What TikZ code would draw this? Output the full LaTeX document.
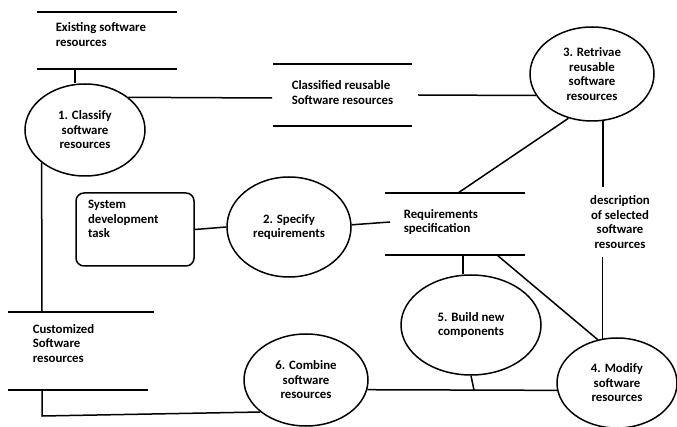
\documentclass[tikz,border=0pt]{standalone}
\usepackage{fontspec}
\setmainfont{Carlito}
\usetikzlibrary{shapes.geometric}

\begin{document}
\begin{tikzpicture}[x=1pt,y=-1pt,line width=1.5pt,
    font=\fontsize{12.8}{14.5}\selectfont\bfseries,
    proc/.style={draw,ellipse,align=center,inner sep=0pt},
    storetext/.style={anchor=west,align=left,inner sep=0pt}]
\useasboundingbox (0,0) rectangle (677,427);

    % data stores
    \draw (37,12) -- (177,12) (37,69) -- (177,69);
    \node[storetext] (exist) at (55,34.5) {Existing software\\resources};
    \draw (273,64) -- (412,64) (273,126) -- (412,126);
    \node[storetext] (classified) at (291,92.5) {Classified reusable\\Software resources};
    \draw (385,193) -- (525,193) (385,255) -- (525,255);
    \node[storetext,inner xsep=13pt] (reqspec) at (390,222) {Requirements\\specification};
    \draw (8,312) -- (154,312) (8,390) -- (148,390);
    \node[storetext] (custom) at (32,343.5) {Customized\\Software\\resources};

    \coordinate (existB) at (75,69);
    \coordinate (classW) at (272,98);
    \coordinate (classE) at (418,95);
    \coordinate (reqT) at (458,193);
    \coordinate (reqB1) at (463,255);
    \coordinate (reqB2) at (497,255);
    \coordinate (customT) at (42,312);
    \coordinate (customB) at (42,390);
    \coordinate (customC) at (42,416);
    \coordinate (joint) at (474,390);

    % processes
    \node[proc,minimum width=120,minimum height=92] (classify) at (85,130) {1. Classify\\software\\resources};
    \node[proc,minimum width=124,minimum height=100] (specify) at (289,227) {2. Specify\\requirements};
    \node[proc,minimum width=124,minimum height=94] (retrieve) at (592,74) {3. Retrivae\\reusable\\software\\resources};
    \node[proc,minimum width=120,minimum height=90] (modify) at (617,383) {4. Modify\\software\\resources};
    \node[proc,minimum width=140,minimum height=100] (build) at (471,325) {5. Build new\\components};
    \node[proc,minimum width=124,minimum height=92] (combine) at (306,380) {6. Combine\\software\\resources};

    \node[draw,rounded corners=8pt,align=left,text width=94pt,inner xsep=12pt,inner ysep=6pt,
        text height=10pt,text depth=51pt] (task) at (135,229.5) {System\\development\\task};
    \node[align=center,inner sep=8pt] (desc) at (620,222) {description\\of selected\\software\\resources};

    % flows
    \draw (existB) -- (existB |- classify.north);
    \draw (classify.37) -- (classW);
    \draw (classE) -- (retrieve.201);
    \draw (retrieve.242) -- (reqT);
    \draw (retrieve.283) -- (retrieve.283 |- desc.north);
    \draw (desc.south -| modify.108) -- (modify.108);
    \draw (classify.217) -- (customT);
    \draw (task.east) -- (specify.west);
    \draw (specify.2) -- (reqspec.west);
    \draw (reqB1) -- (reqB1 |- build.north);
    \draw (reqB2) -- (modify.114);
    \draw (combine.351) -- (modify.187);
    \draw (build.south) -- (joint);
    \draw (customB) -- (customC) -- (combine.215);
\end{tikzpicture}
\end{document}
